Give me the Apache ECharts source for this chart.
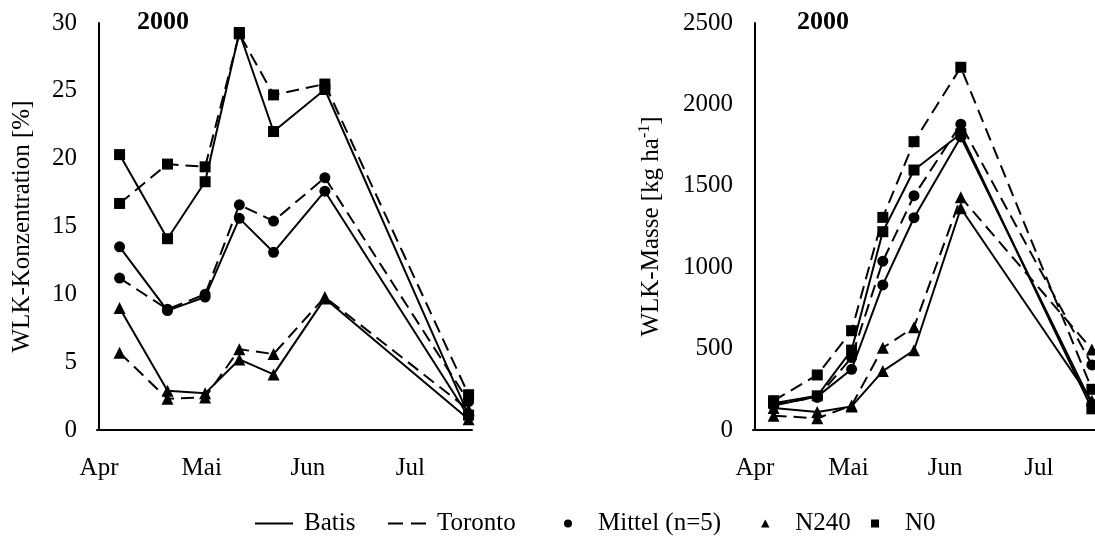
<!DOCTYPE html>
<html>
<head>
<meta charset="utf-8">
<script src="https://cdn.jsdelivr.net/npm/echarts@6/dist/echarts.min.js"></script>
<style>
  html, body { margin: 0; padding: 0; background: #fff; }
  #chart { width: 1095px; height: 541px; }
</style>
</head>
<body>
<div id="chart"></div>
<script>
// Sampling dates of the 2000 season
const sampleDates = ['2000-04-07', '2000-04-21', '2000-05-02', '2000-05-12', '2000-05-22', '2000-06-06', '2000-07-18'];
const monthStarts = ['2000-04-01', '2000-05-01', '2000-06-01', '2000-07-01'];
const monthLabels = ['Apr', 'Mai', 'Jun', 'Jul'];

// WLK-Konzentration [%]
const concBatisN0       = [20.3, 14.1, 18.3, 29.3, 22.0, 25.1, 1.1];
const concTorontoN0     = [16.7, 19.6, 19.4, 29.2, 24.7, 25.5, 2.6];
const concBatisMittel   = [13.5, 8.8, 9.8, 15.6, 13.1, 17.6, 1.0];
const concTorontoMittel = [11.2, 8.9, 10.0, 16.6, 15.4, 18.6, 2.1];
const concBatisN240     = [9.0, 2.9, 2.7, 5.2, 4.1, 9.7, 0.8];
const concTorontoN240   = [5.7, 2.3, 2.4, 5.95, 5.6, 9.8, 1.5];

// WLK-Masse [kg ha-1]
const massBatisN0       = [165, 210, 491, 1218, 1597, 1820, 130];
const massTorontoN0     = [180, 338, 610, 1306, 1771, 2228, 250];
const massBatisMittel   = [150, 205, 373, 891, 1304, 1800, 160];
const massTorontoMittel = [160, 200, 445, 1037, 1439, 1878, 400];
const massBatisN240     = [135, 110, 145, 362, 490, 1362, 180];
const massTorontoN240   = [88, 72, 150, 505, 631, 1430, 495];

const concTicks = { min: 0, max: 30, interval: 5 };
const massTicks = { min: 0, max: 2500, interval: 500 };

const FONT = 'Liberation Serif, Times New Roman, serif';
const FS = 25;
const DASH = [13, 7];

const seasonStart = Date.UTC(2000, 3, 1);
function dayOf(s) {
  const p = s.split('-').map(Number);
  return Math.round((Date.UTC(p[0], p[1] - 1, p[2]) - seasonStart) / 86400000);
}
const sampleDays = sampleDates.map(dayOf);
const monthDays = monthStarts.map(dayOf);

function pairs(values) {
  return values.map((v, i) => [sampleDays[i], v]);
}

function lineSeries(name, values, idx, dashed, symbol, size) {
  return {
    name: name,
    type: 'line',
    xAxisIndex: idx,
    yAxisIndex: idx,
    data: pairs(values),
    clip: false,
    symbol: symbol,
    symbolSize: size,
    showSymbol: true,
    animation: false,
    itemStyle: { color: '#000' },
    lineStyle: { color: '#000', width: 2, type: dashed ? DASH : 'solid' },
    emphasis: { disabled: true }
  };
}

function xAxisFor(idx) {
  return {
    type: 'value',
    gridIndex: idx,
    min: -0.6,
    max: 109,
    axisLine: { show: true, onZero: false, lineStyle: { color: '#000', width: 2 } },
    axisTick: { show: false },
    splitLine: { show: false },
    axisLabel: {
      customValues: monthDays,
      formatter: v => monthLabels[monthDays.indexOf(v)] || '',
      margin: 26,
      color: '#000',
      fontFamily: FONT,
      fontSize: FS
    }
  };
}

function yAxisFor(idx, ticks, name, gap) {
  return {
    type: 'value',
    gridIndex: idx,
    min: ticks.min,
    max: ticks.max,
    interval: ticks.interval,
    name: name,
    nameLocation: 'middle',
    nameGap: gap,
    nameRotate: 90,
    nameTextStyle: {
      color: '#000', fontFamily: FONT, fontSize: FS,
      rich: { sup: { fontFamily: FONT, fontSize: 16, color: '#000', verticalAlign: 'top', padding: [0, 0, 12, 0] } }
    },
    axisLine: { show: true, lineStyle: { color: '#000', width: 2 } },
    axisTick: { show: false },
    splitLine: { show: false },
    axisLabel: { margin: 20, color: '#000', fontFamily: FONT, fontSize: FS, formatter: v => String(v) }
  };
}

// Legend keys (no data of their own)
const keySeries = [
  { name: 'Batis', type: 'line', data: [], symbol: 'none', itemStyle: { color: '#000' }, lineStyle: { color: '#000', width: 2 } },
  { name: 'Toronto', type: 'line', data: [], symbol: 'none', itemStyle: { color: '#000' }, lineStyle: { color: '#000', width: 2, type: DASH } },
  { name: 'Mittel (n=5)', type: 'line', data: [], symbol: 'circle', itemStyle: { color: '#000' } },
  { name: 'N240', type: 'line', data: [], symbol: 'triangle', itemStyle: { color: '#000' } },
  { name: 'N0', type: 'line', data: [], symbol: 'rect', itemStyle: { color: '#000' } }
];

const legendIcons = {
  'Batis': 'path://M0,0h38v2h-38z',
  'Toronto': 'path://M0,0h15v2h-15zM23,0h15v2h-15z',
  'Mittel (n=5)': 'path://M4,0A4,4,0,1,1,4,8A4,4,0,1,1,4,0Z',
  'N240': 'path://M4,0L8,7.5L0,7.5Z',
  'N0': 'path://M0,0h7.5v7.5h-7.5z'
};
const legendLefts = { 'Batis': 250, 'Toronto': 383, 'Mittel (n=5)': 559, 'N240': 756, 'N0': 866 };

const legends = Object.keys(legendIcons).map(name => ({
  left: legendLefts[name],
  top: 506,
  orient: 'horizontal',
  itemWidth: 38,
  itemHeight: 8,
  selectedMode: false,
  data: [{ name: name, icon: legendIcons[name] }],
  textStyle: { color: '#000', fontFamily: FONT, fontSize: FS, padding: [0, 0, 0, 6] }
}));

const option = {
  backgroundColor: '#fff',
  animation: false,
  title: [
    { text: '2000', left: 132, top: 4, textStyle: { fontFamily: FONT, fontSize: 26, fontWeight: 'bold', color: '#000' } },
    { text: '2000', left: 792, top: 4, textStyle: { fontFamily: FONT, fontSize: 26, fontWeight: 'bold', color: '#000' } }
  ],
  legend: legends,
  grid: [
    { left: 97, top: 23, width: 375, height: 407 },
    { left: 753, top: 23, width: 343, height: 407 }
  ],
  xAxis: [xAxisFor(0), xAxisFor(1)],
  yAxis: [
    yAxisFor(0, concTicks, 'WLK-Konzentration [%]', 62),
    yAxisFor(1, massTicks, 'WLK-Masse [kg ha{sup|-1}]', 88)
  ],
  series: [
    lineSeries('Batis N0', concBatisN0, 0, false, 'rect', 11),
    lineSeries('Toronto N0', concTorontoN0, 0, true, 'rect', 11),
    lineSeries('Batis Mittel', concBatisMittel, 0, false, 'circle', 11),
    lineSeries('Toronto Mittel', concTorontoMittel, 0, true, 'circle', 11),
    lineSeries('Batis N240', concBatisN240, 0, false, 'triangle', 12),
    lineSeries('Toronto N240', concTorontoN240, 0, true, 'triangle', 12),
    lineSeries('Batis N0 ', massBatisN0, 1, false, 'rect', 11),
    lineSeries('Toronto N0 ', massTorontoN0, 1, true, 'rect', 11),
    lineSeries('Batis Mittel ', massBatisMittel, 1, false, 'circle', 11),
    lineSeries('Toronto Mittel ', massTorontoMittel, 1, true, 'circle', 11),
    lineSeries('Batis N240 ', massBatisN240, 1, false, 'triangle', 12),
    lineSeries('Toronto N240 ', massTorontoN240, 1, true, 'triangle', 12)
  ].concat(keySeries)
};

const chart = echarts.init(document.getElementById('chart'), null, { renderer: 'canvas' });
chart.setOption(option);
</script>
</body>
</html>
